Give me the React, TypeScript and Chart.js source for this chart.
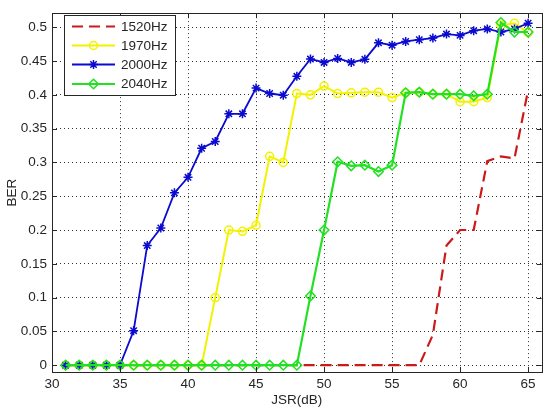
import React, { useEffect, useRef } from 'react';
import { Chart, registerables } from 'chart.js';

Chart.register(...registerables);

const jsr = [31, 32, 33, 34, 35, 36, 37, 38, 39, 40, 41, 42, 43, 44, 45, 46, 47, 48, 49, 50, 51, 52, 53, 54, 55, 56, 57, 58, 59, 60, 61, 62, 63, 64, 65];

const ber1520 = [0, 0, 0, 0, 0, 0, 0, 0, 0, 0, 0, 0, 0, 0, 0, 0, 0, 0, 0, 0, 0, 0, 0, 0, 0, 0, 0, 0.045, 0.177, 0.2, 0.2, 0.302, 0.309, 0.306, 0.407];
const ber1970 = [0, 0, 0, 0, 0, 0, 0, 0, 0, 0, 0, 0.1, 0.2, 0.198, 0.207, 0.309, 0.3, 0.402, 0.4, 0.413, 0.402, 0.403, 0.404, 0.404, 0.396, 0.403, 0.404, 0.401, 0.401, 0.39, 0.39, 0.396, 0.503, 0.506, 0.492];
const ber2000 = [0, 0, 0, 0, 0, 0.051, 0.177, 0.203, 0.255, 0.278, 0.321, 0.331, 0.372, 0.372, 0.41, 0.402, 0.3995, 0.4275, 0.453, 0.448, 0.454, 0.448, 0.4526, 0.477, 0.4735, 0.479, 0.4816, 0.484, 0.49, 0.488, 0.495, 0.4976, 0.493, 0.4976, 0.506];
const ber2040 = [0, 0, 0, 0, 0, 0, 0, 0, 0, 0, 0, 0, 0, 0, 0, 0, 0, 0, 0.1025, 0.2, 0.301, 0.295, 0.296, 0.2865, 0.296, 0.403, 0.404, 0.401, 0.401, 0.401, 0.3986, 0.401, 0.507, 0.493, 0.493];

const seriesLabels = ['1520Hz', '1970Hz', '2000Hz', '2040Hz'];
const xTitle = 'JSR(dB)';
const yTitle = 'BER';

const FONT = { family: '"Liberation Sans", Arial, sans-serif', size: 13.5 };
const TEXT = '#262626';

const RED = '#cc1a1a';
const YELLOW = '#f2f200';
const BLUE = '#0a0ad0';
const GREEN = '#22e022';

const styles = [
  { color: RED, dash: [11, 6], width: 2.2, point: false as any, radius: 0 },
  { color: YELLOW, dash: [], width: 2, point: 'circle', radius: 4 },
  { color: BLUE, dash: [], width: 1.8, point: 'star', radius: 4.5 },
  { color: GREEN, dash: [], width: 2.2, point: 'rectRot', radius: 4.8 },
];

const toPoints = (ys: number[]) => ys.map((y, i) => ({ x: jsr[i], y }));

function drawMarker(ctx: CanvasRenderingContext2D, style: string, r: number, x: number, y: number) {
  ctx.beginPath();
  if (style === 'circle') {
    ctx.arc(x, y, r, 0, Math.PI * 2);
  } else if (style === 'rectRot') {
    ctx.moveTo(x, y - r);
    ctx.lineTo(x + r, y);
    ctx.lineTo(x, y + r);
    ctx.lineTo(x - r, y);
    ctx.closePath();
  } else if (style === 'star') {
    for (let k = 0; k < 4; k++) {
      const ang = (k * Math.PI) / 4;
      const dx = Math.cos(ang) * r, dy = Math.sin(ang) * r;
      ctx.moveTo(x - dx, y - dy);
      ctx.lineTo(x + dx, y + dy);
    }
  }
  ctx.stroke();
}

const framePlugin = {
  id: 'matlabFrame',
  afterDatasetsDraw(chart: any) {
    const { ctx, chartArea: a, scales } = chart;
    ctx.save();
    ctx.strokeStyle = '#262626';
    ctx.lineWidth = 1;
    const tl = 5;
    scales.x.ticks.forEach((t: any) => {
      const px = Math.round(scales.x.getPixelForValue(t.value)) + 0.5;
      ctx.beginPath();
      ctx.moveTo(px, a.bottom);
      ctx.lineTo(px, a.bottom - tl);
      ctx.moveTo(px, a.top);
      ctx.lineTo(px, a.top + tl);
      ctx.stroke();
    });
    scales.y.ticks.forEach((t: any) => {
      const py = Math.round(scales.y.getPixelForValue(t.value)) + 0.5;
      ctx.beginPath();
      ctx.moveTo(a.left, py);
      ctx.lineTo(a.left + tl, py);
      ctx.moveTo(a.right, py);
      ctx.lineTo(a.right - tl, py);
      ctx.stroke();
    });
    ctx.strokeStyle = '#262626';
    ctx.strokeRect(Math.round(a.left) + 0.5, Math.round(a.top) + 0.5, Math.round(a.right - a.left), Math.round(a.bottom - a.top));

    // legend
    const bx = 64.5, by = 15.5, bw = 111, bh = 80;
    ctx.fillStyle = '#ffffff';
    ctx.fillRect(bx, by, bw, bh);
    ctx.strokeStyle = '#262626';
    ctx.lineWidth = 1;
    ctx.strokeRect(bx, by, bw, bh);
    const rows = [26.5, 45.5, 64.5, 84];
    ctx.font = `${FONT.size}px ${FONT.family}`;
    ctx.textBaseline = 'middle';
    ctx.textAlign = 'left';
    seriesLabels.forEach((lab, i) => {
      const s = styles[i];
      const y = rows[i];
      ctx.save();
      ctx.strokeStyle = s.color;
      ctx.lineWidth = s.width;
      ctx.setLineDash(s.dash);
      ctx.beginPath();
      ctx.moveTo(72, y);
      ctx.lineTo(115, y);
      ctx.stroke();
      ctx.setLineDash([]);
      if (s.point) {
        ctx.lineWidth = 1.5;
        ctx.strokeStyle = s.color;
        drawMarker(ctx, s.point, s.radius, 93.5, y);
      }
      ctx.restore();
      ctx.fillStyle = TEXT;
      ctx.fillText(lab, 121, y + 0.5);
    });
    ctx.restore();
  },
};

export default function App() {
  const ref = useRef<HTMLCanvasElement>(null);
  useEffect(() => {
    const datasets = [ber1520, ber1970, ber2000, ber2040].map((d, i) => {
      const s = styles[i];
      return {
        label: seriesLabels[i],
        data: toPoints(d),
        borderColor: s.color,
        backgroundColor: 'rgba(0,0,0,0)',
        borderWidth: s.width,
        borderDash: s.dash,
        pointStyle: s.point,
        pointRadius: s.radius,
        pointBorderColor: s.color,
        pointBackgroundColor: 'rgba(0,0,0,0)',
        pointBorderWidth: 1.5,
        tension: 0,
        fill: false,
        order: 3 - i,
      };
    });
    const chart = new Chart(ref.current!, {
      type: 'line',
      data: { datasets },
      plugins: [framePlugin],
      options: {
        responsive: false,
        animation: false,
        devicePixelRatio: 1,
        layout: { padding: { top: 5, right: 4, left: 0, bottom: 0 } },
        plugins: { legend: { display: false }, tooltip: { enabled: false } },
        scales: {
          x: {
            type: 'linear',
            min: 30,
            max: 66,
            afterFit: (s: any) => { s.height = 40; },
            ticks: { stepSize: 5, includeBounds: false, font: FONT, color: TEXT, padding: 4, maxRotation: 0, autoSkip: false },
            grid: { color: '#333', lineWidth: 1, drawTicks: false },
            border: { display: false, dash: [1, 3] },
            title: { display: true, text: xTitle, font: FONT, color: TEXT, padding: { top: 4, bottom: 4 } },
          },
          y: {
            type: 'linear',
            min: -0.0101,
            max: 0.521,
            afterFit: (s: any) => { s.width = 52; },
            ticks: {
              stepSize: 0.05, includeBounds: false, font: FONT, color: TEXT, padding: 5, autoSkip: false,
              callback: (v: any) => String(Number(Number(v).toFixed(2))),
            },
            grid: { color: '#333', lineWidth: 1, drawTicks: false },
            border: { display: false, dash: [1, 3] },
            title: { display: true, text: yTitle, font: FONT, color: TEXT, padding: { top: 4, bottom: 4 } },
          },
        },
      },
    } as any);
    return () => chart.destroy();
  }, []);
  return (
    <div style={{ position: 'absolute', left: 0, top: 0, width: 548, height: 412, background: '#fff' }}>
      <canvas ref={ref} width={548} height={412} style={{ width: 548, height: 412, display: 'block' }} />
    </div>
  );
}
